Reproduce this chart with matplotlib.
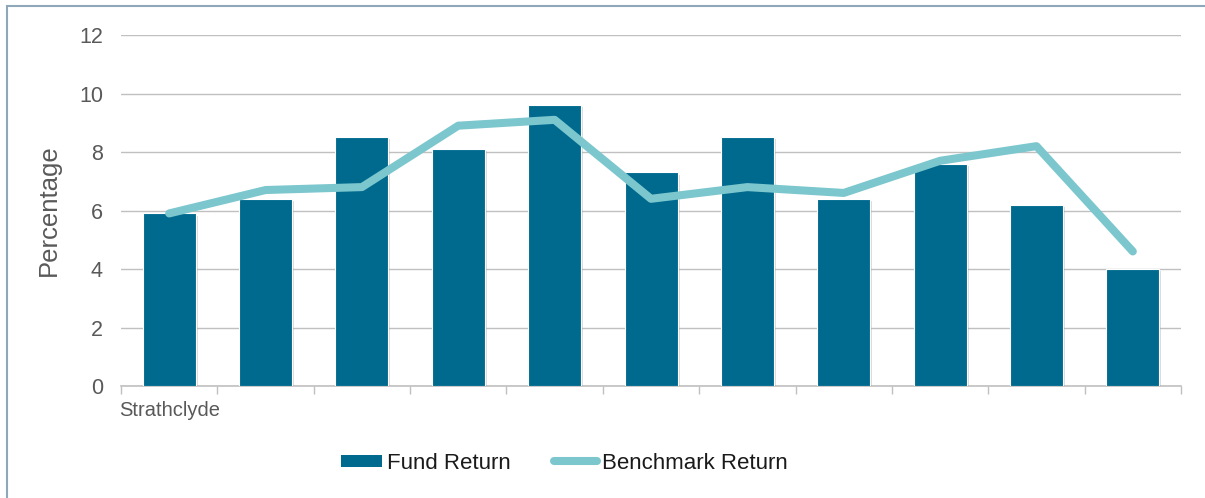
import matplotlib
matplotlib.use("Agg")
import matplotlib.pyplot as plt
from matplotlib.patches import Rectangle
from matplotlib.legend_handler import HandlerPatch
from matplotlib.container import BarContainer
import matplotlib.patheffects as pe
import numpy as np

plt.rcParams['font.family'] = ['Liberation Sans', 'DejaVu Sans']

categories = ["Strathclyde", "", "", "", "", "", "", "", "", "", ""]
fund_return = [5.9, 6.4, 8.5, 8.1, 9.6, 7.3, 8.5, 6.4, 7.6, 6.2, 4.0]
benchmark_return = [5.9, 6.7, 6.8, 8.9, 9.1, 6.4, 6.8, 6.6, 7.7, 8.2, 4.6]
yticks = [0, 2, 4, 6, 8, 10, 12]

bar_color = "#006A8E"
line_color = "#7CC7CE"
grid_color = "#C0C0C0"
text_color = "#595959"

fig = plt.figure(figsize=(12.05, 4.98), dpi=100)
# outer border (only top and left edges fall inside the image)
fig.patches.append(Rectangle((7/1205, -0.05), 1.1, 1 - 6/498 + 0.05,
                             transform=fig.transFigure, fill=False,
                             edgecolor="#8FA7B8", linewidth=1.5))

ax = fig.add_axes([121/1205, 1 - 386/498, (1181-121)/1205, (386-35)/498])
x = np.arange(len(categories))

bars = ax.bar(x, fund_return, width=0.55, color=bar_color, zorder=3,
              edgecolor="white", linewidth=0.8,
              path_effects=[pe.SimplePatchShadow(offset=(1.5, -1.5), shadow_rgbFace="#999999", alpha=0.35), pe.Normal()],
              label="Fund Return")
line, = ax.plot(x, benchmark_return, color=line_color, linewidth=5.8, solid_capstyle="round",
                solid_joinstyle="round", zorder=4, label="Benchmark Return")

ax.set_xlim(-0.5, len(categories) - 0.5)
ax.set_ylim(0, 12)
ax.set_yticks(yticks)
ax.set_yticklabels([str(v) for v in yticks], fontsize=15.5, color=text_color)
ax.yaxis.grid(True, color=grid_color, linewidth=1, zorder=0)
ax.set_axisbelow(True)

ax.set_xticks(np.arange(len(categories) + 1) - 0.5, minor=False)
ax.set_xticklabels([])
ax.tick_params(axis='x', which='major', length=6, color=grid_color, width=1)
ax.tick_params(axis='y', length=0, pad=13)
ax.set_xticks(x, minor=True)
ax.set_xticklabels(categories, minor=True, fontsize=14.5, color=text_color)
ax.tick_params(axis='x', which='minor', length=0, pad=11)

for s in ['top', 'right', 'left']:
    ax.spines[s].set_visible(False)
ax.spines['bottom'].set_color(grid_color)
ax.spines['bottom'].set_linewidth(1.2)

ax.set_ylabel("Percentage", fontsize=18.5, color=text_color, labelpad=13)

PX = 72 / 100  # points per pixel


def make_patch(legend, orig_handle, xdescent, ydescent, width, height, fontsize):
    w = 41 * PX
    h = 12 * PX
    return Rectangle((-xdescent + width - w, -ydescent + (height - h) / 2), w, h)


def update_patch(legend_handle, orig_handle):
    legend_handle.set_facecolor(bar_color)
    legend_handle.set_edgecolor("none")


leg = fig.legend(handles=[bars, line], labels=["Fund Return", "Benchmark Return"],
                 loc="center", bbox_to_anchor=(563/1205, 1 - 463/498), ncol=2,
                 frameon=False, fontsize=16, handlelength=1.94, handletextpad=0.225,
                 columnspacing=1.94,
                 handler_map={BarContainer: HandlerPatch(patch_func=make_patch,
                                                         update_func=update_patch)})
for t in leg.get_texts():
    t.set_color("#1a1a1a")

fig.savefig("out.png", dpi=100)
